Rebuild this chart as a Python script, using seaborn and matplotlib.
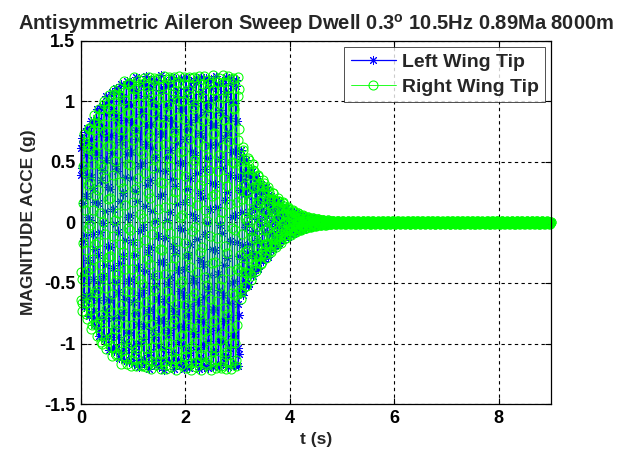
import numpy as np
import pandas as pd
import matplotlib
matplotlib.use("Agg")
import matplotlib.pyplot as plt
import seaborn as sns

# Test condition (from the title): 10.5 Hz aileron dwell, record length 9 s
FREQ_HZ = 10.5
SAMPLE_DT = 0.006993
T_END = 9.0

# Peak acceleration (g) of each oscillation cycle, cycle k spans [k/f, (k+1)/f)
left_cycle_peaks = [
    0.70, 0.79, 0.85, 0.94, 0.98, 1.05, 1.08, 1.13, 1.14, 1.18, 1.17,
    1.20, 1.18, 1.21, 1.19, 1.20, 1.22, 1.18, 1.21, 1.19, 1.22, 1.20,
    1.18, 1.21, 1.20, 1.22, 1.19, 1.21, 1.18, 1.20, 1.21, 1.19,
    0.60, 0.53, 0.44, 0.39, 0.32, 0.29, 0.22, 0.19, 0.15, 0.12,
    0.095, 0.075, 0.060, 0.045, 0.035, 0.028, 0.022, 0.017, 0.013, 0.010,
]
right_cycle_peaks = [
    0.73, 0.80, 0.89, 0.94, 1.02, 1.05, 1.11, 1.12, 1.17, 1.18, 1.20,
    1.19, 1.21, 1.20, 1.22, 1.20, 1.21, 1.23, 1.20, 1.22, 1.21, 1.20,
    1.23, 1.21, 1.22, 1.20, 1.22, 1.21, 1.23, 1.21, 1.22, 1.20,
    0.63, 0.54, 0.48, 0.40, 0.35, 0.29, 0.25, 0.20, 0.17, 0.13,
    0.10, 0.080, 0.062, 0.048, 0.037, 0.029, 0.023, 0.018, 0.014, 0.011,
]
# residual level once the response has died out
left_tail_peak = 0.008
right_tail_peak = 0.010

series_names = ["Left Wing Tip", "Right Wing Tip"]
x_ticks = [0, 2, 4, 6, 8]
y_ticks = [-1.5, -1, -0.5, 0, 0.5, 1, 1.5]
y_tick_labels = ["-1.5", "-1", "-0.5", "0", "0.5", "1", "1.5"]


def wing_response(t, peaks, tail, sign):
    cycle = np.floor(t * FREQ_HZ).astype(int)
    amp = np.array([peaks[c] if c < len(peaks) else tail for c in cycle])
    return sign * amp * np.sin(2 * np.pi * FREQ_HZ * t + 0.6)


t = np.arange(0, T_END + SAMPLE_DT / 2, SAMPLE_DT)
df = pd.DataFrame({
    "t": t,
    "left": wing_response(t, left_cycle_peaks, left_tail_peak, 1.0),
    "right": wing_response(t, right_cycle_peaks, right_tail_peak, -1.0),
})

sns.set_style("white")
plt.rcParams["font.family"] = ["Liberation Sans", "DejaVu Sans"]
plt.rcParams["font.weight"] = "bold"
plt.rcParams["mathtext.fontset"] = "custom"
plt.rcParams["mathtext.rm"] = "Liberation Sans:bold"
plt.rcParams["mathtext.bf"] = "Liberation Sans:bold"

fig = plt.figure(figsize=(6.22, 4.54), dpi=100)
ax = fig.add_axes([0.130, 0.110, 0.756, 0.800])

sns.lineplot(data=df, x="t", y="left", ax=ax, color=(0, 0, 1),
             linewidth=0.9, marker=(8, 2, 0), markersize=6.5,
             markeredgecolor=(0, 0, 1), markeredgewidth=0.7,
             estimator=None, sort=False, label=series_names[0])
sns.lineplot(data=df, x="t", y="right", ax=ax, color=(0, 1, 0),
             linewidth=0.6, marker="o", markersize=6.5,
             markerfacecolor="none", markeredgecolor=(0, 1, 0),
             markeredgewidth=0.75,
             estimator=None, sort=False, label=series_names[1])
for ln in ax.lines:
    ln.set_clip_on(False)

ax.set_xlim(0, 9)
ax.set_ylim(-1.5, 1.5)
ax.set_xticks(x_ticks)
ax.set_xticklabels([str(v) for v in x_ticks])
ax.set_yticks(y_ticks)
ax.set_yticklabels(y_tick_labels)
ax.tick_params(direction="in", length=4, width=0.8, colors="black",
               labelsize=13, pad=4, top=True, right=True,
               bottom=True, left=True)
for lab in ax.get_xticklabels() + ax.get_yticklabels():
    lab.set_fontweight("bold")

ax.grid(True, color="black", linestyle=(0, (3, 3)), linewidth=0.8)
for sp in ax.spines.values():
    sp.set_visible(True)
    sp.set_color("black")
    sp.set_linewidth(0.9)

ax.set_xlabel("t (s)", fontsize=12.5, fontweight="bold", labelpad=4)
ax.set_ylabel("MAGNITUDE ACCE (g)", fontsize=12.5, fontweight="bold", labelpad=6)
ax.set_title(r"Antisymmetric Aileron Sweep Dwell 0.3$^{\mathrm{o}}$ 10.5Hz 0.89Ma 8000m",
             fontsize=14.5, fontweight="bold", pad=8)

leg = ax.legend(loc="upper right", fontsize=14, frameon=True, fancybox=False,
                borderaxespad=0.3, handlelength=2.3, handletextpad=0.3,
                borderpad=0.35, labelspacing=0.35)
leg.get_frame().set_edgecolor("black")
leg.get_frame().set_linewidth(0.6)
for txt in leg.get_texts():
    txt.set_fontweight("bold")

fig.savefig("out.png", dpi=100, facecolor="white")
